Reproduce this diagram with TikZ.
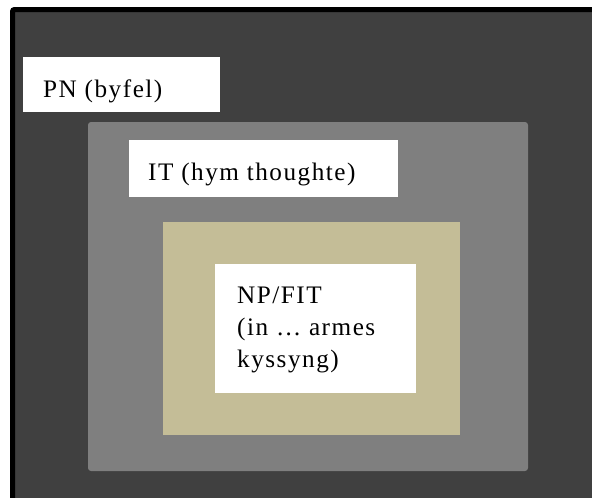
\documentclass[tikz,border=0pt]{standalone}
\usepackage{fontspec}
\setmainfont{Liberation Serif}[LetterSpace=6]
\definecolor{darkfill}{HTML}{404040}
\definecolor{midgray}{HTML}{7F7F7F}
\definecolor{tanfill}{HTML}{C4BD97}
\begin{document}
\begin{tikzpicture}[x=1pt,y=-1pt,
  lbl/.style={inner sep=0pt, anchor=base west, font=\fontsize{25.2}{32}\selectfont, text=black},
  whitebox/.style={fill=white, draw=none}]
\useasboundingbox (0,0) rectangle (592,498);
\fill[white] (0,0) rectangle (592,498);
\begin{scope}
\clip (0,0) rectangle (592,498);
\path[draw=black, line width=5pt, fill=darkfill, rounded corners=2pt] (12.5,9.5) rectangle (610,515);
\end{scope}
\path[fill=midgray, rounded corners=3pt] (88,122) rectangle (528,471);
\path[fill=tanfill] (163,222) rectangle (460,435);
\path[whitebox] (23,57) rectangle (220,112);
\path[whitebox] (129,140) rectangle (398,197);
\path[whitebox] (215,264) rectangle (416,393);
\node[lbl] (pn) at (43,97) {PN (byfel)};
\node[lbl] (it) at (148,180) {IT (hym thoughte)};
\node[lbl] (np1) at (237,303) {NP/FIT};
\node[lbl] (np2) at (237,335) {(in … armes};
\node[lbl] (np3) at (237,367) {kyssyng)};
\end{tikzpicture}
\end{document}
